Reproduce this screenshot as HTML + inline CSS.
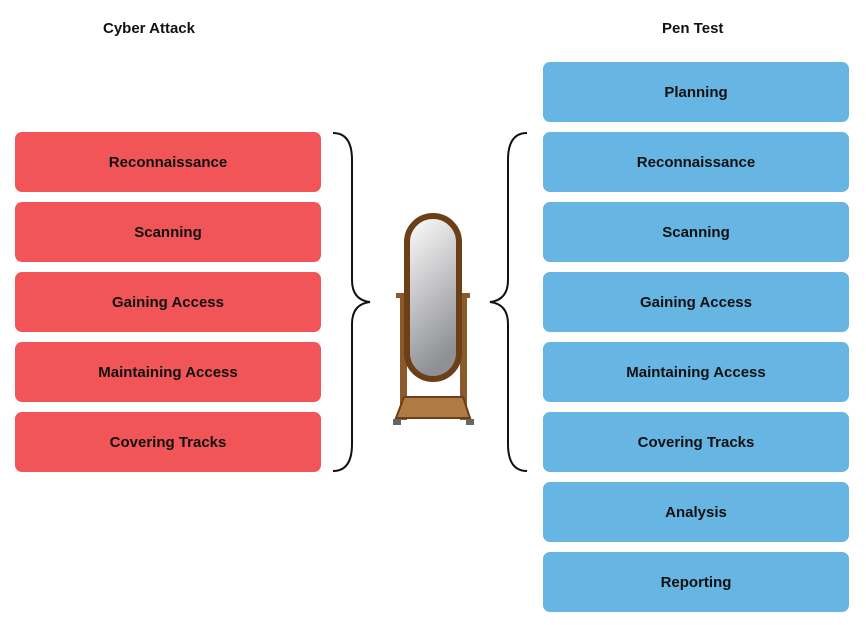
<!DOCTYPE html>
<html><head><style>
body{margin:0;width:866px;height:625px;background:#fff;position:relative;overflow:hidden;font-family:"Liberation Sans",sans-serif;}
.b{position:absolute;width:306px;height:60px;border-radius:7px;display:flex;align-items:center;justify-content:center;font-weight:bold;font-size:15px;color:#111;}
.r{left:15px;background:#f15557;}
.u{left:543px;background:#67b5e3;}
.h{position:absolute;font-weight:bold;font-size:15px;color:#111;}
</style></head><body>
<div class="h" style="left:103px;top:20px">Cyber Attack</div>
<div class="h" style="left:662px;top:20px">Pen Test</div>
<div class="b r" style="top:132px">Reconnaissance</div>
<div class="b r" style="top:202px">Scanning</div>
<div class="b r" style="top:272px">Gaining Access</div>
<div class="b r" style="top:342px">Maintaining Access</div>
<div class="b r" style="top:412px">Covering Tracks</div>
<div class="b u" style="top:62px">Planning</div>
<div class="b u" style="top:132px">Reconnaissance</div>
<div class="b u" style="top:202px">Scanning</div>
<div class="b u" style="top:272px">Gaining Access</div>
<div class="b u" style="top:342px">Maintaining Access</div>
<div class="b u" style="top:412px">Covering Tracks</div>
<div class="b u" style="top:482px">Analysis</div>
<div class="b u" style="top:552px">Reporting</div>
<svg width="866" height="625" style="position:absolute;left:0;top:0">
<defs><linearGradient id="g" x1="0" y1="0" x2="0.3" y2="1"><stop offset="0" stop-color="#fff"/><stop offset="1" stop-color="#8f9094"/></linearGradient></defs>
<path d="M333,133 Q352,133 352,160 L352,280 Q352,300 370,302 Q352,304 352,324 L352,444 Q352,471 333,471" fill="none" stroke="#111" stroke-width="2"/>
<path d="M527,133 Q508,133 508,160 L508,280 Q508,300 490,302 Q508,304 508,324 L508,444 Q508,471 527,471" fill="none" stroke="#111" stroke-width="2"/>
<rect x="396" y="293" width="14" height="5" fill="#8b5a2b"/>
<rect x="456" y="293" width="14" height="5" fill="#8b5a2b"/>
<rect x="400" y="295" width="7" height="125" fill="#8b5a2b"/>
<rect x="460" y="295" width="7" height="125" fill="#8b5a2b"/>
<path d="M404,397 L463,397 L470,418 L396,418 Z" fill="#b07a45" stroke="#6b3f18" stroke-width="2"/>
<rect x="393" y="419" width="8" height="6" fill="#666"/>
<rect x="466" y="419" width="8" height="6" fill="#666"/>
<rect x="407" y="216" width="52" height="163" rx="26" fill="url(#g)" stroke="#6b3f18" stroke-width="6"/>
</svg>
</body></html>
